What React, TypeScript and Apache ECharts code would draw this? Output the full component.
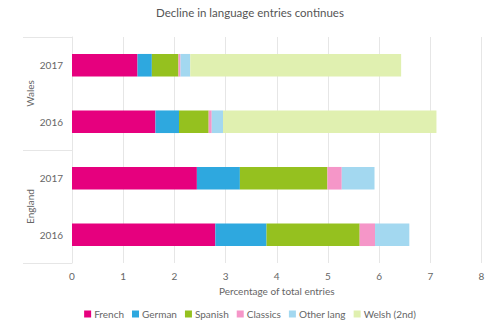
import React, { useEffect, useRef } from "react";
import * as echarts from "echarts";

// categories listed bottom to top
const yearLabels = ["2016", "2017", "2016", "2017"];
const groupLabels = ["England", "Wales"];
const seriesNames = ["French", "German", "Spanish", "Classics", "Other lang", "Welsh (2nd)"];
const french = [2.8, 2.44, 1.63, 1.28];
const german = [1.0, 0.84, 0.46, 0.28];
const spanish = [1.82, 1.71, 0.58, 0.52];
const classics = [0.3, 0.28, 0.06, 0.04];
const otherLang = [0.67, 0.64, 0.22, 0.19];
const welsh = [0, 0, 4.17, 4.12];
const xTicks = [0, 8, 1];

const colors = ["#e6007e", "#2ea8df", "#95c11f", "#f596c8", "#a3d8f0", "#e0f0b0"];

export default function App() {
  const ref = useRef<HTMLDivElement>(null);
  useEffect(() => {
    if (!ref.current) return;
    const chart = echarts.init(ref.current, null, { renderer: "svg" });
    const values = [french, german, spanish, classics, otherLang, welsh];
    const font = "Lato, 'Noto Sans', sans-serif";
    chart.setOption({
      animation: false,
      textStyle: { fontFamily: font },
      title: {
        text: "Decline in language entries continues",
        left: "center",
        top: 1,
        textStyle: { fontSize: 11.5, fontWeight: "normal", color: "#555", fontFamily: font },
      },
      legend: {
        bottom: 3,
        left: "center",
        itemWidth: 7,
        itemHeight: 7,
        itemGap: 8,
        icon: "rect",
        textStyle: { fontSize: 10, color: "#666", fontFamily: font, padding: [0, 0, 0, -2] },
        data: seriesNames,
      },
      grid: { left: 72, right: 18.5, top: 37, bottom: 64 },
      xAxis: {
        type: "value",
        min: xTicks[0],
        max: xTicks[1],
        interval: xTicks[2],
        axisLine: { show: false },
        axisTick: { show: false },
        splitLine: { lineStyle: { color: "#e6e6e6" } },
        axisLabel: { color: "#666", fontSize: 10, margin: 8 },
        name: "Percentage of total entries",
        nameLocation: "middle",
        nameGap: 22,
        nameTextStyle: { color: "#666", fontSize: 10 },
      },
      yAxis: [
        {
          type: "category",
          data: yearLabels,
          axisLine: { show: true, lineStyle: { color: "#e6e6e6" } },
          axisTick: { show: false },
          axisLabel: { color: "#666", fontSize: 10, margin: 9 },
        },
        {
          type: "category",
          data: groupLabels,
          position: "left",
          axisLine: { show: false },
          axisTick: { show: true, length: 49, lineStyle: { color: "#e6e6e6" } },
          axisLabel: { color: "#666", fontSize: 10, rotate: 90, margin: 37 },
        },
      ],
      series: seriesNames.map((name, i) => ({
        name,
        type: "bar",
        stack: "total",
        yAxisIndex: 0,
        barWidth: "40%",
        data: values[i],
        itemStyle: { color: colors[i] },
      })),
    });
    return () => chart.dispose();
  }, []);
  return <div ref={ref} style={{ position: "absolute", left: 0, top: 0, width: 500, height: 327 }} />;
}
